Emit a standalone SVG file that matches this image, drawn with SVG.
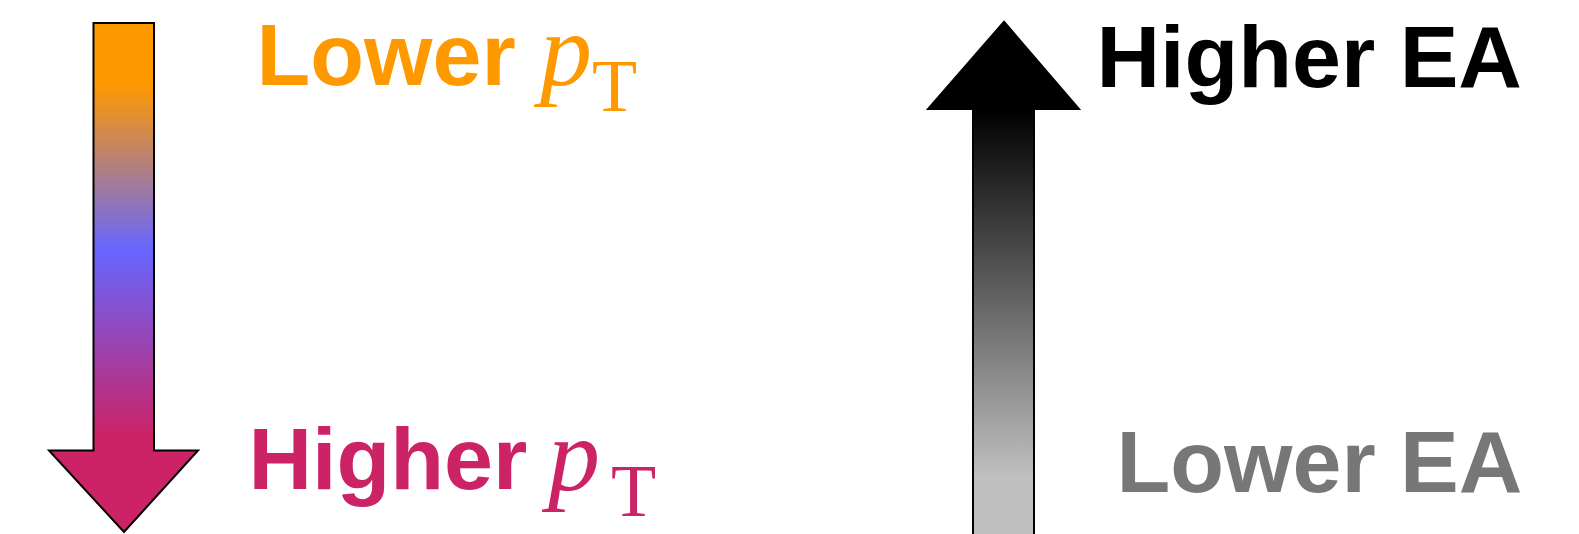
<svg xmlns="http://www.w3.org/2000/svg" width="1579" height="534" viewBox="0 0 1579 534">
  <defs>
    <linearGradient id="gradPt" gradientUnits="userSpaceOnUse" x1="0" y1="23" x2="0" y2="533">
      <stop offset="0" stop-color="#FF9900"/>
      <stop offset="0.12" stop-color="#FF9900"/>
      <stop offset="0.445" stop-color="#6666FF"/>
      <stop offset="0.81" stop-color="#CC2266"/>
      <stop offset="1" stop-color="#CC2266"/>
    </linearGradient>
    <linearGradient id="gradEa" gradientUnits="userSpaceOnUse" x1="0" y1="22" x2="0" y2="534">
      <stop offset="0" stop-color="#000000"/>
      <stop offset="0.17" stop-color="#000000"/>
      <stop offset="0.89" stop-color="#C0C0C0"/>
      <stop offset="1" stop-color="#C0C0C0"/>
    </linearGradient>
    <style>
      .arrow { stroke: #000000; stroke-width: 2; stroke-linejoin: miter; }
      .word { font-family: "Liberation Sans", Arial, sans-serif; font-weight: bold; font-size: 88px; }
      .math { font-family: "Liberation Serif", "Times New Roman", serif; font-size: 104px; }
      .mi { font-style: italic; font-size: 104px; }
      .sub { font-style: normal; font-size: 74px; }
      .orange { fill: #FF9900; }
      .crimson { fill: #CC2266; }
      .black { fill: #000000; }
      .gray { fill: #777777; }
    </style>
  </defs>

  <g id="arrow-pt">
    <polygon class="arrow" fill="url(#gradPt)" points="93.5,23 154,23 154,450.5 198,450.5 124,532 49,450.5 93.5,450.5"/>
  </g>

  <g id="label-lower-pt">
    <text class="word orange" x="256.5" y="85">Lower</text>
    <text class="math orange" x="540" y="85"><tspan class="mi">p</tspan><tspan class="sub" x="592" y="111">T</tspan></text>
  </g>

  <g id="label-higher-pt">
    <text class="word crimson" x="248.5" y="489">Higher</text>
    <text class="math crimson" x="548" y="490"><tspan class="mi">p</tspan><tspan class="sub" x="611" y="516">T</tspan></text>
  </g>

  <g id="arrow-ea">
    <polygon class="arrow" fill="url(#gradEa)" points="1004,21.7 1079,109 1034,109 1034,545 973,545 973,109 928,109"/>
  </g>

  <g id="label-higher-ea">
    <text class="word black" x="1096.5" y="87">Higher EA</text>
  </g>

  <g id="label-lower-ea">
    <text class="word gray" x="1116.5" y="491.5">Lower EA</text>
  </g>
</svg>
